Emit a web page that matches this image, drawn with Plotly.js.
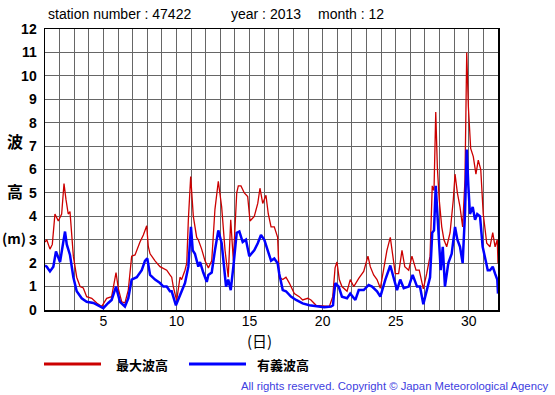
<!DOCTYPE html>
<html><head><meta charset="utf-8">
<script src="https://cdn.plot.ly/plotly-3.0.1.min.js"></script>
<style>html,body{margin:0;padding:0;background:#fff;}#chart{width:555px;height:395px;}</style>
</head><body><div id="chart"></div>
<script>
// Day of month (fractional) and wave heights (m)
const maxDays = [1.00,1.12,1.34,1.50,1.68,1.91,2.14,2.30,2.44,2.59,2.71,2.83,2.94,3.17,3.40,3.62,3.85,4.20,4.54,4.88,5.22,5.56,5.86,6.02,6.25,6.47,6.70,6.93,7.16,7.50,7.73,7.96,8.07,8.19,8.30,8.53,8.87,9.33,9.55,9.67,9.78,10.01,10.24,10.35,10.58,10.70,10.81,10.97,11.15,11.38,11.49,11.72,11.95,12.18,12.41,12.63,12.86,13.09,13.32,13.54,13.71,13.89,14.12,14.23,14.41,14.64,14.87,15.03,15.32,15.56,15.71,15.90,16.12,16.28,16.47,16.69,16.92,17.03,17.27,17.49,17.72,18.06,18.40,18.63,18.98,19.20,19.55,20.00,20.46,20.69,20.85,20.98,21.14,21.32,21.67,21.89,22.13,22.47,22.81,23.10,23.26,23.49,23.72,23.95,24.18,24.40,24.63,24.75,24.97,25.20,25.43,25.62,25.89,26.11,26.39,26.61,26.89,27.12,27.35,27.50,27.62,27.74,27.85,27.98,28.15,28.30,28.49,28.72,28.94,29.06,29.22,29.40,29.58,29.74,29.86,29.97,30.13,30.31,30.49,30.65,30.82,30.99,31.23,31.45,31.64,31.80,31.95,32.00];
const maxWave = [2.9,3.0,2.6,2.8,4.1,3.8,4.1,5.4,4.7,4.1,4.2,3.1,2.3,1.4,1.0,0.94,0.57,0.5,0.3,0.15,0.5,0.57,1.6,0.9,0.35,0.3,0.85,2.3,2.35,2.9,3.2,3.6,2.7,2.4,2.3,2.1,1.85,1.7,1.5,1.4,1.0,0.4,1.4,1.3,1.7,2.0,3.85,5.7,4.0,3.1,3.0,2.6,2.1,1.8,2.1,4.3,5.5,4.4,2.55,1.4,3.85,2.1,5.0,5.3,5.3,5.0,4.85,3.8,4.0,4.55,5.2,4.55,4.9,4.1,3.55,3.55,3.1,1.4,1.3,1.4,1.15,0.7,0.57,0.43,0.5,0.43,0.2,0.17,0.15,0.57,1.8,2.05,1.3,1.0,0.8,1.3,1.0,1.35,1.65,2.3,1.85,1.5,1.3,0.93,1.7,2.55,3.1,2.55,1.55,1.55,2.55,1.85,1.7,2.3,1.7,1.7,0.9,1.55,2.3,5.3,5.1,8.45,6.1,4.7,3.55,3.0,2.7,3.3,4.7,5.8,5.0,4.4,3.55,5.55,11.0,8.7,6.9,6.55,5.8,6.4,6.0,4.1,2.85,2.7,3.3,2.7,3.0,2.0];

const sigDays = [1.00,1.12,1.34,1.57,1.75,2.03,2.25,2.37,2.49,2.71,2.94,3.17,3.51,3.85,4.31,4.76,4.99,5.33,5.56,5.86,6.13,6.47,6.70,6.93,7.28,7.62,7.84,8.00,8.19,8.53,8.87,9.10,9.33,9.55,9.67,9.96,10.24,10.58,10.81,10.92,10.99,11.11,11.26,11.49,11.61,11.83,11.95,12.07,12.18,12.41,12.63,12.86,13.09,13.39,13.54,13.71,13.89,14.12,14.30,14.53,14.75,14.98,15.32,15.56,15.78,16.01,16.24,16.47,16.69,16.92,17.03,17.27,17.49,17.83,18.18,18.63,19.09,19.55,20.11,20.57,20.71,20.76,20.87,21.10,21.32,21.67,21.89,22.24,22.47,22.81,23.15,23.38,23.72,23.95,24.29,24.63,24.86,25.09,25.31,25.55,25.89,26.16,26.46,26.66,26.89,27.12,27.35,27.50,27.62,27.74,27.85,27.98,28.08,28.22,28.37,28.60,28.83,29.06,29.22,29.40,29.58,29.74,29.86,29.97,30.08,30.27,30.43,30.58,30.77,30.95,31.11,31.30,31.45,31.64,31.80,31.95,32.00];
const sigWave = [1.9,1.85,1.65,1.85,2.5,2.05,2.9,3.35,2.8,2.35,1.4,0.8,0.5,0.35,0.3,0.15,0.08,0.3,0.43,1.0,0.35,0.15,0.5,1.3,1.4,1.7,2.1,2.2,1.5,1.3,1.15,1.0,1.0,0.8,0.8,0.2,0.6,1.15,1.85,2.7,3.55,2.55,2.4,1.85,2.05,1.6,1.35,1.2,1.5,1.6,2.55,3.4,2.85,1.0,1.3,0.85,1.85,3.3,3.35,2.9,3.0,2.3,2.55,2.85,3.2,3.0,2.55,2.1,2.2,2.0,1.55,0.85,0.8,0.57,0.43,0.28,0.2,0.15,0.12,0.15,0.2,0.57,1.15,1.0,0.57,0.5,0.7,0.43,0.85,0.85,1.07,1.0,0.8,0.57,1.3,1.9,1.35,0.85,1.3,0.93,1.0,1.5,1.0,1.0,0.25,0.85,1.4,3.3,3.4,5.3,4.1,3.0,1.7,2.7,1.0,2.0,2.4,3.55,3.0,2.7,2.0,4.1,6.85,5.3,4.1,4.4,3.85,4.1,4.0,2.7,2.3,1.7,1.7,1.85,1.55,1.3,0.7];

const xTickVals = [5,10,15,20,25,30];
const titleParts = ["station number : 47422", "year : 2013", "month : 12"];
const seriesNames = ["最大波高", "有義波高"];
const yLabelParts = ["波", "高", "(m)"];
const xLabel = "(日)";
const copyright = "All rights reserved. Copyright © Japan Meteorological Agency";

const L = 45, T = 29, W = 453, H = 281;
const px = x => (x - L) / W;
const py = y => (T + H - y) / H;

const sans = "Liberation Sans, Arial, sans-serif";
const cjk = "Noto Sans CJK JP, sans-serif";

const traces = [
  {x: maxDays, y: maxWave, type: 'scatter', mode: 'lines', name: seriesNames[0],
   line: {color: '#cc0000', width: 1.3}},
  {x: sigDays, y: sigWave, type: 'scatter', mode: 'lines', name: seriesNames[1],
   line: {color: '#0000ff', width: 2.5}}
];

const gridC = '#666666';
const layout = {
  width: 555, height: 395,
  margin: {l: L, r: 555 - L - W, t: T, b: 395 - T - H},
  paper_bgcolor: '#ffffff', plot_bgcolor: '#ffffff',
  showlegend: false,
  xaxis: {
    range: [1, 32], tickvals: xTickVals, ticks: '', showgrid: true, gridcolor: gridC, gridwidth: 1,
    minor: {tick0: 1, dtick: 1, showgrid: true, gridcolor: gridC, gridwidth: 1, ticks: ''},
    showline: true, mirror: true, linecolor: '#000', linewidth: 1.5, zeroline: false,
    tickfont: {family: sans, size: 14, color: '#000'}, ticklabelstandoff: -2
  },
  yaxis: {
    range: [0, 12], dtick: 1, ticks: '', showgrid: true, gridcolor: gridC, gridwidth: 1,
    showline: true, mirror: true, linecolor: '#000', linewidth: 1.5, zeroline: false,
    tickfont: {family: sans, size: 14, color: '#000', weight: 'bold'}, ticklabelstandoff: 4
  },
  annotations: [
    {text: titleParts[0], xref: 'paper', yref: 'paper', x: px(46), y: py(14), xanchor: 'left', yanchor: 'middle', showarrow: false, font: {family: sans, size: 14, color: '#000'}},
    {text: titleParts[1], xref: 'paper', yref: 'paper', x: px(229), y: py(14), xanchor: 'left', yanchor: 'middle', showarrow: false, font: {family: sans, size: 14, color: '#000'}},
    {text: titleParts[2], xref: 'paper', yref: 'paper', x: px(316), y: py(14), xanchor: 'left', yanchor: 'middle', showarrow: false, font: {family: sans, size: 14, color: '#000'}},
    {text: yLabelParts[0], xref: 'paper', yref: 'paper', x: px(15), y: py(141), xanchor: 'center', yanchor: 'middle', showarrow: false, font: {family: cjk, size: 16, color: '#000', weight: 'bold'}},
    {text: yLabelParts[1], xref: 'paper', yref: 'paper', x: px(15), y: py(191), xanchor: 'center', yanchor: 'middle', showarrow: false, font: {family: cjk, size: 16, color: '#000', weight: 'bold'}},
    {text: yLabelParts[2], xref: 'paper', yref: 'paper', x: px(14), y: py(238), xanchor: 'center', yanchor: 'middle', showarrow: false, font: {family: cjk, size: 14, color: '#000', weight: 'bold'}},
    {text: xLabel, xref: 'paper', yref: 'paper', x: px(259), y: py(340), xanchor: 'center', yanchor: 'middle', showarrow: false, font: {family: cjk, size: 15, color: '#000'}},
    {text: seriesNames[0], xref: 'paper', yref: 'paper', x: px(114), y: py(364), xanchor: 'left', yanchor: 'middle', showarrow: false, font: {family: cjk, size: 13, color: '#000', weight: 'bold'}},
    {text: seriesNames[1], xref: 'paper', yref: 'paper', x: px(255), y: py(364), xanchor: 'left', yanchor: 'middle', showarrow: false, font: {family: cjk, size: 13, color: '#000', weight: 'bold'}},
    {text: copyright, xref: 'paper', yref: 'paper', x: px(551), y: py(386), xanchor: 'right', yanchor: 'middle', showarrow: false, font: {family: sans, size: 11.3, color: '#4040e0'}}
  ],
  shapes: [
    {type: 'line', xref: 'paper', yref: 'paper', x0: px(44), x1: px(101), y0: py(364), y1: py(364), line: {color: '#cc0000', width: 3}},
    {type: 'line', xref: 'paper', yref: 'paper', x0: px(189), x1: px(246), y0: py(364), y1: py(364), line: {color: '#0000ff', width: 3}}
  ]
};

Plotly.newPlot('chart', traces, layout, {staticPlot: true, displayModeBar: false});
</script></body></html>
